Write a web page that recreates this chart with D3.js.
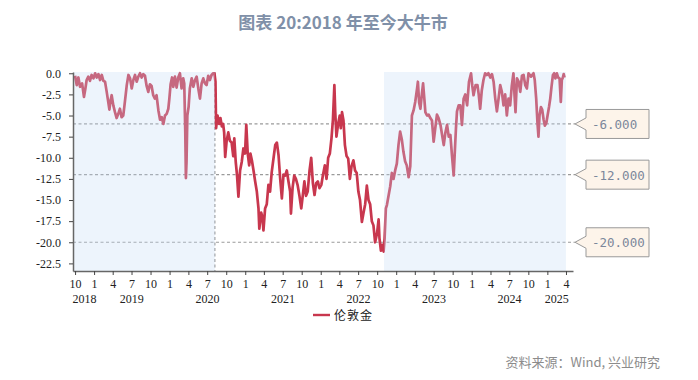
<!DOCTYPE html>
<meta charset="utf-8">
<head>
    <title>图表 20:2018 年至今大牛市</title>
    <script src="https://cdn.jsdelivr.net/npm/d3@7"></script>
    <style>
        body { margin: 0; background: #fff; }
        .tick text { font-family: "Liberation Serif", "Times New Roman", serif; font-size: 12px; fill: #222; }
    </style>
</head>
<body>
<script>
    // drawdown of London gold from its running high (%)
    const dates = [
        "2018-10-01","2018-10-09","2018-10-17","2018-10-25","2018-11-04","2018-11-13","2018-11-20","2018-11-26","2018-12-04","2018-12-12",
        "2018-12-20","2018-12-29","2019-01-06","2019-01-14","2019-01-22","2019-01-30","2019-02-07","2019-02-15","2019-02-23","2019-03-03",
        "2019-03-08","2019-03-16","2019-03-22","2019-03-27","2019-04-04","2019-04-12","2019-04-20","2019-04-28","2019-05-06","2019-05-14",
        "2019-05-22","2019-05-27","2019-06-03","2019-06-08","2019-06-16","2019-06-24","2019-07-02","2019-07-10","2019-07-18","2019-07-26",
        "2019-08-03","2019-08-11","2019-08-19","2019-08-27","2019-09-04","2019-09-12","2019-09-20","2019-09-28","2019-10-06","2019-10-14",
        "2019-10-22","2019-10-30","2019-11-08","2019-11-16","2019-11-24","2019-12-02","2019-12-10","2019-12-18","2019-12-26","2019-12-31",
        "2020-01-06","2020-01-13","2020-01-19","2020-01-27","2020-02-04","2020-02-12","2020-02-20","2020-02-28","2020-03-07","2020-03-12",
        "2020-03-17","2020-03-20","2020-03-23","2020-03-27","2020-04-02","2020-04-08","2020-04-17","2020-04-25","2020-05-03","2020-05-11",
        "2020-05-19","2020-05-27","2020-06-04","2020-06-12","2020-06-20","2020-06-28","2020-07-06","2020-07-14","2020-07-22","2020-07-30",
        "2020-08-05","2020-08-10","2020-08-13","2020-08-20","2020-08-28","2020-09-03","2020-09-10","2020-09-16","2020-09-21","2020-09-26",
        "2020-10-03","2020-10-11","2020-10-19","2020-10-27","2020-11-04","2020-11-09","2020-11-16","2020-11-22","2020-11-29","2020-12-07",
        "2020-12-15","2020-12-23","2020-12-31","2021-01-06","2021-01-13","2021-01-20","2021-01-26","2021-02-02","2021-02-10","2021-02-18",
        "2021-02-26","2021-03-06","2021-03-10","2021-03-19","2021-03-25","2021-03-30","2021-04-07","2021-04-15","2021-04-23","2021-05-01",
        "2021-05-09","2021-05-18","2021-05-26","2021-06-03","2021-06-11","2021-06-19","2021-06-27","2021-07-05","2021-07-13","2021-07-21",
        "2021-07-29","2021-08-06","2021-08-10","2021-08-18","2021-08-26","2021-09-03","2021-09-11","2021-09-20","2021-09-29","2021-10-06",
        "2021-10-14","2021-10-22","2021-10-30","2021-11-08","2021-11-16","2021-11-24","2021-12-02","2021-12-10","2021-12-18","2021-12-26",
        "2022-01-04","2022-01-12","2022-01-21","2022-01-29","2022-02-06","2022-02-14","2022-02-22","2022-03-01","2022-03-08","2022-03-12",
        "2022-03-18","2022-03-26","2022-04-03","2022-04-08","2022-04-14","2022-04-21","2022-04-28","2022-05-06","2022-05-14","2022-05-22",
        "2022-05-30","2022-06-08","2022-06-16","2022-06-24","2022-07-02","2022-07-10","2022-07-19","2022-07-27","2022-08-04","2022-08-12",
        "2022-08-20","2022-08-28","2022-09-05","2022-09-13","2022-09-21","2022-09-30","2022-10-08","2022-10-12","2022-10-19","2022-10-25",
        "2022-11-01","2022-11-06","2022-11-12","2022-11-17","2022-11-25","2022-12-03","2022-12-11","2022-12-19","2022-12-27","2023-01-04",
        "2023-01-12","2023-01-20","2023-01-28","2023-02-05","2023-02-13","2023-02-21","2023-03-02","2023-03-10","2023-03-18","2023-03-26",
        "2023-04-03","2023-04-12","2023-04-16","2023-04-22","2023-04-28","2023-05-05","2023-05-11","2023-05-17","2023-05-22","2023-05-30",
        "2023-06-07","2023-06-15","2023-06-23","2023-07-01","2023-07-09","2023-07-17","2023-07-25","2023-08-03","2023-08-11","2023-08-19",
        "2023-08-27","2023-09-04","2023-09-12","2023-09-20","2023-09-28","2023-10-06","2023-10-12","2023-10-17","2023-10-22","2023-10-30",
        "2023-11-07","2023-11-15","2023-11-23","2023-12-01","2023-12-10","2023-12-19","2023-12-29","2024-01-04","2024-01-10","2024-01-20",
        "2024-01-29","2024-02-04","2024-02-11","2024-02-19","2024-02-27","2024-03-06","2024-03-14","2024-03-22","2024-03-31","2024-04-08",
        "2024-04-16","2024-04-24","2024-05-02","2024-05-10","2024-05-18","2024-05-26","2024-06-03","2024-06-11","2024-06-19","2024-06-27",
        "2024-07-05","2024-07-13","2024-07-21","2024-07-26","2024-07-31","2024-08-07","2024-08-15","2024-08-23","2024-08-31","2024-09-08",
        "2024-09-16","2024-09-24","2024-10-02","2024-10-14","2024-10-26","2024-11-01","2024-11-08","2024-11-14","2024-11-19","2024-11-24",
        "2024-12-01","2024-12-07","2024-12-14","2024-12-20","2024-12-27","2025-01-02","2025-01-09","2025-01-15","2025-01-21","2025-01-28",
        "2025-02-03","2025-02-09","2025-02-16","2025-02-22","2025-03-01","2025-03-07","2025-03-12","2025-03-17","2025-03-21","2025-03-25"
    ]
    const drawdown = [
        -0.3,-1.4,-0.5,-1.6,-1.2,-2.8,-1.8,-0.8,-0.4,-0.9,
        -0.2,-0.6,0.0,-0.5,-0.1,-0.8,-0.2,-0.9,-1.0,-2.2,
        -3.0,-4.3,-3.2,-2.6,-3.8,-4.6,-5.3,-4.8,-4.2,-5.2,
        -5.0,-4.0,-2.5,-1.4,-0.2,-0.6,-1.8,-0.8,-0.2,-1.0,
        -0.4,0.0,-0.5,-0.1,-0.3,-1.5,-2.2,-1.3,-1.5,-2.6,
        -3.0,-2.6,-4.4,-5.5,-5.2,-6.0,-5.0,-4.8,-4.2,-3.0,
        -1.3,-0.5,-1.6,-0.4,-1.7,-0.5,0.0,-1.8,-0.6,-1.2,
        -7.0,-12.4,-10.5,-5.0,-4.0,-1.8,-0.6,-1.6,-0.8,-0.4,
        -1.8,-3.0,-1.2,-0.6,-1.2,-1.4,-0.3,-0.8,-0.2,0.0,
        0.0,-1.0,-6.5,-5.0,-6.0,-5.3,-6.3,-6.0,-7.0,-9.9,
        -8.0,-7.0,-8.0,-8.2,-9.8,-7.7,-10.5,-12.0,-14.6,-11.5,
        -10.5,-8.9,-9.5,-6.1,-9.5,-10.9,-9.5,-10.3,-11.5,-12.8,
        -14.0,-16.0,-18.4,-16.5,-17.0,-18.6,-16.0,-15.5,-13.2,-14.0,
        -11.7,-10.0,-8.5,-8.2,-9.7,-12.5,-14.8,-12.0,-12.1,-11.5,
        -12.8,-14.0,-16.6,-13.5,-12.1,-12.5,-13.2,-14.5,-16.0,-14.5,
        -12.8,-14.5,-14.0,-11.5,-10.0,-13.0,-14.4,-13.0,-12.8,-13.6,
        -13.2,-12.0,-10.9,-12.5,-10.0,-9.5,-7.7,-5.5,-1.4,-4.5,
        -7.5,-6.0,-5.0,-6.5,-4.6,-5.6,-8.5,-9.8,-10.1,-12.5,
        -11.0,-10.3,-11.5,-11.8,-14.0,-15.0,-17.6,-16.5,-15.5,-13.3,
        -15.0,-15.5,-17.5,-18.0,-20.0,-19.0,-17.3,-19.5,-21.0,-20.3,
        -21.1,-19.5,-16.0,-15.6,-14.5,-13.4,-11.8,-12.5,-11.5,-10.7,
        -8.5,-6.9,-7.8,-9.3,-10.4,-10.9,-12.3,-11.0,-5.0,-4.4,
        -3.4,-1.8,-1.0,-3.5,-4.2,-2.5,-1.2,-3.0,-4.6,-5.0,
        -4.9,-5.3,-5.6,-8.1,-6.5,-4.9,-5.3,-6.1,-7.3,-8.5,
        -7.0,-6.1,-7.5,-7.3,-9.8,-12.1,-9.0,-6.5,-4.5,-3.8,
        -3.8,-6.1,-3.0,-2.5,-3.8,-1.0,0.0,-1.5,-2.6,-1.4,
        -1.4,-2.5,-4.2,-2.0,-0.8,0.0,-0.2,0.0,-0.5,-0.1,
        -1.0,-3.0,-4.5,-3.0,-1.4,-2.2,-3.8,-2.5,-5.0,-3.0,
        -3.8,-1.5,0.0,-2.5,-4.6,-0.6,-1.0,-2.2,-0.3,-0.2,
        -1.4,-1.8,0.0,-0.4,0.0,-0.8,-3.0,-5.8,-7.5,-5.0,
        -4.0,-4.3,-5.5,-6.2,-5.9,-5.0,-4.0,-3.0,-1.6,-0.2,
        0.0,-0.6,0.0,-0.5,-0.6,-3.4,-0.8,-0.5,-0.1,-0.5
    ]
    const seriesName = "伦敦金"
    // bull market periods (shaded)
    const bullPeriods = [["2018-09-21", "2020-08-07"], ["2022-11-03", "2025-04-01"]]
    const refLevels = [-6, -12, -20]
    const yTicks = [0, -2.5, -5, -7.5, -10, -12.5, -15, -17.5, -20, -22.5]
    const years = [2018, 2019, 2020, 2021, 2022, 2023, 2024, 2025]

    const parse = d3.timeParse("%Y-%m-%d")
    const data = dates.map((d, i) => ({date: parse(d), value: drawdown[i]}))

    const w = 698, h = 380
    const plotLeft = 73, plotRight = 573, plotTop = 72, plotBottom = 271

    const svg = d3.select("body").append("svg")
        .attr("width", w)
        .attr("height", h)

    const x = d3.scaleTime()
        .domain([parse("2018-09-21"), parse("2025-05-05")])
        .range([plotLeft, plotRight])
    const y = d3.scaleLinear()
        .domain([-23.4, 0.15])
        .range([plotBottom, plotTop])

    // title
    svg.append("text")
        .attr("x", 343).attr("y", 29)
        .attr("text-anchor", "middle")
        .attr("font-family", "Noto Sans CJK SC")
        .attr("font-size", 17)
        .attr("font-weight", "bold")
        .attr("fill", "#8090a8")
        .text("图表 20:2018 年至今大牛市")

    // reference lines
    svg.append("g").selectAll("line")
        .data(refLevels)
        .enter().append("line")
        .attr("x1", plotLeft).attr("x2", 575)
        .attr("y1", d => y(d)).attr("y2", d => y(d))
        .attr("stroke", "#9a9a9a")
        .attr("stroke-width", 1.2)
        .attr("stroke-dasharray", "3,2.5")

    svg.append("line")
        .attr("x1", x(parse(bullPeriods[0][1]))).attr("x2", x(parse(bullPeriods[0][1])))
        .attr("y1", plotTop).attr("y2", plotBottom)
        .attr("stroke", "#9a9a9a")
        .attr("stroke-width", 1.2)
        .attr("stroke-dasharray", "3,2.5")

    // the line
    const line = d3.line()
        .x(d => x(d.date))
        .y(d => y(d.value))

    svg.append("path")
        .datum(data)
        .attr("d", line)
        .attr("fill", "none")
        .attr("stroke", "#c8374e")
        .attr("stroke-width", 2.7)
        .attr("stroke-linejoin", "round")

    // shading on top, tints the line underneath
    svg.append("g").selectAll("rect")
        .data(bullPeriods)
        .enter().append("rect")
        .attr("x", d => x(parse(d[0])))
        .attr("width", d => x(parse(d[1])) - x(parse(d[0])))
        .attr("y", plotTop)
        .attr("height", plotBottom - plotTop)
        .attr("fill", "#c4d9f4")
        .attr("opacity", 0.3)

    // axes
    svg.append("g")
        .attr("transform", "translate(" + plotLeft + ",0)")
        .call(d3.axisLeft(y).tickValues(yTicks).tickSize(4).tickSizeOuter(0).tickPadding(8)
            .tickFormat(d => d.toFixed(1)))

    const monthTicks = d3.timeMonth.range(parse("2018-10-01"), parse("2025-04-02"), 3)
    svg.append("g")
        .attr("transform", "translate(0," + plotBottom + ")")
        .call(d3.axisBottom(x).tickValues(monthTicks).tickSize(4).tickSizeOuter(0).tickPadding(4)
            .tickFormat(d => d.getMonth() + 1))

    svg.selectAll(".domain").attr("stroke", "#666").attr("stroke-width", 1.5)
    svg.selectAll(".tick line").attr("stroke", "#444")

    const first = monthTicks[0], last = monthTicks[monthTicks.length - 1]
    svg.append("g").selectAll("text")
        .data(years)
        .enter().append("text")
        .attr("x", d => {
            const a = d3.max([new Date(d, 0, 1), first])
            const b = d3.min([new Date(d + 1, 0, 1), last])
            return (x(a) + x(b)) / 2
        })
        .attr("y", 303)
        .attr("text-anchor", "middle")
        .attr("font-family", "Liberation Serif, Times New Roman, serif")
        .attr("font-size", 12)
        .attr("fill", "#222")
        .text(d => d)

    // callout boxes
    const callouts = svg.append("g").selectAll("g")
        .data(refLevels)
        .enter().append("g")
        .attr("transform", d => "translate(575," + y(d) + ")")

    callouts.append("path")
        .attr("d", "M0,0 L11,-6 L11,-14.5 L74,-14.5 L74,14.5 L11,14.5 L11,6 Z")
        .attr("fill", "#fdf4ea")
        .attr("stroke", "#999")
        .attr("stroke-width", 1)

    callouts.append("text")
        .attr("x", 17).attr("y", 5)
        .attr("font-family", "DejaVu Sans Mono")
        .attr("font-size", 12.5)
        .attr("fill", "#7b879b")
        .text(d => d.toFixed(3))

    // legend
    svg.append("line")
        .attr("x1", 313).attr("x2", 330)
        .attr("y1", 315).attr("y2", 315)
        .attr("stroke", "#c8374e")
        .attr("stroke-width", 2.4)
    svg.append("text")
        .attr("x", 334).attr("y", 319.5)
        .attr("font-family", "Noto Sans CJK SC")
        .attr("font-size", 12)
        .attr("letter-spacing", 1)
        .attr("fill", "#222")
        .text(seriesName)

    // source
    svg.append("text")
        .attr("x", 660).attr("y", 367)
        .attr("text-anchor", "end")
        .attr("font-family", "Noto Sans CJK SC")
        .attr("font-size", 13)
        .attr("fill", "#8c8c8c")
        .text("资料来源：Wind, 兴业研究")
</script>
</body>
</html>
